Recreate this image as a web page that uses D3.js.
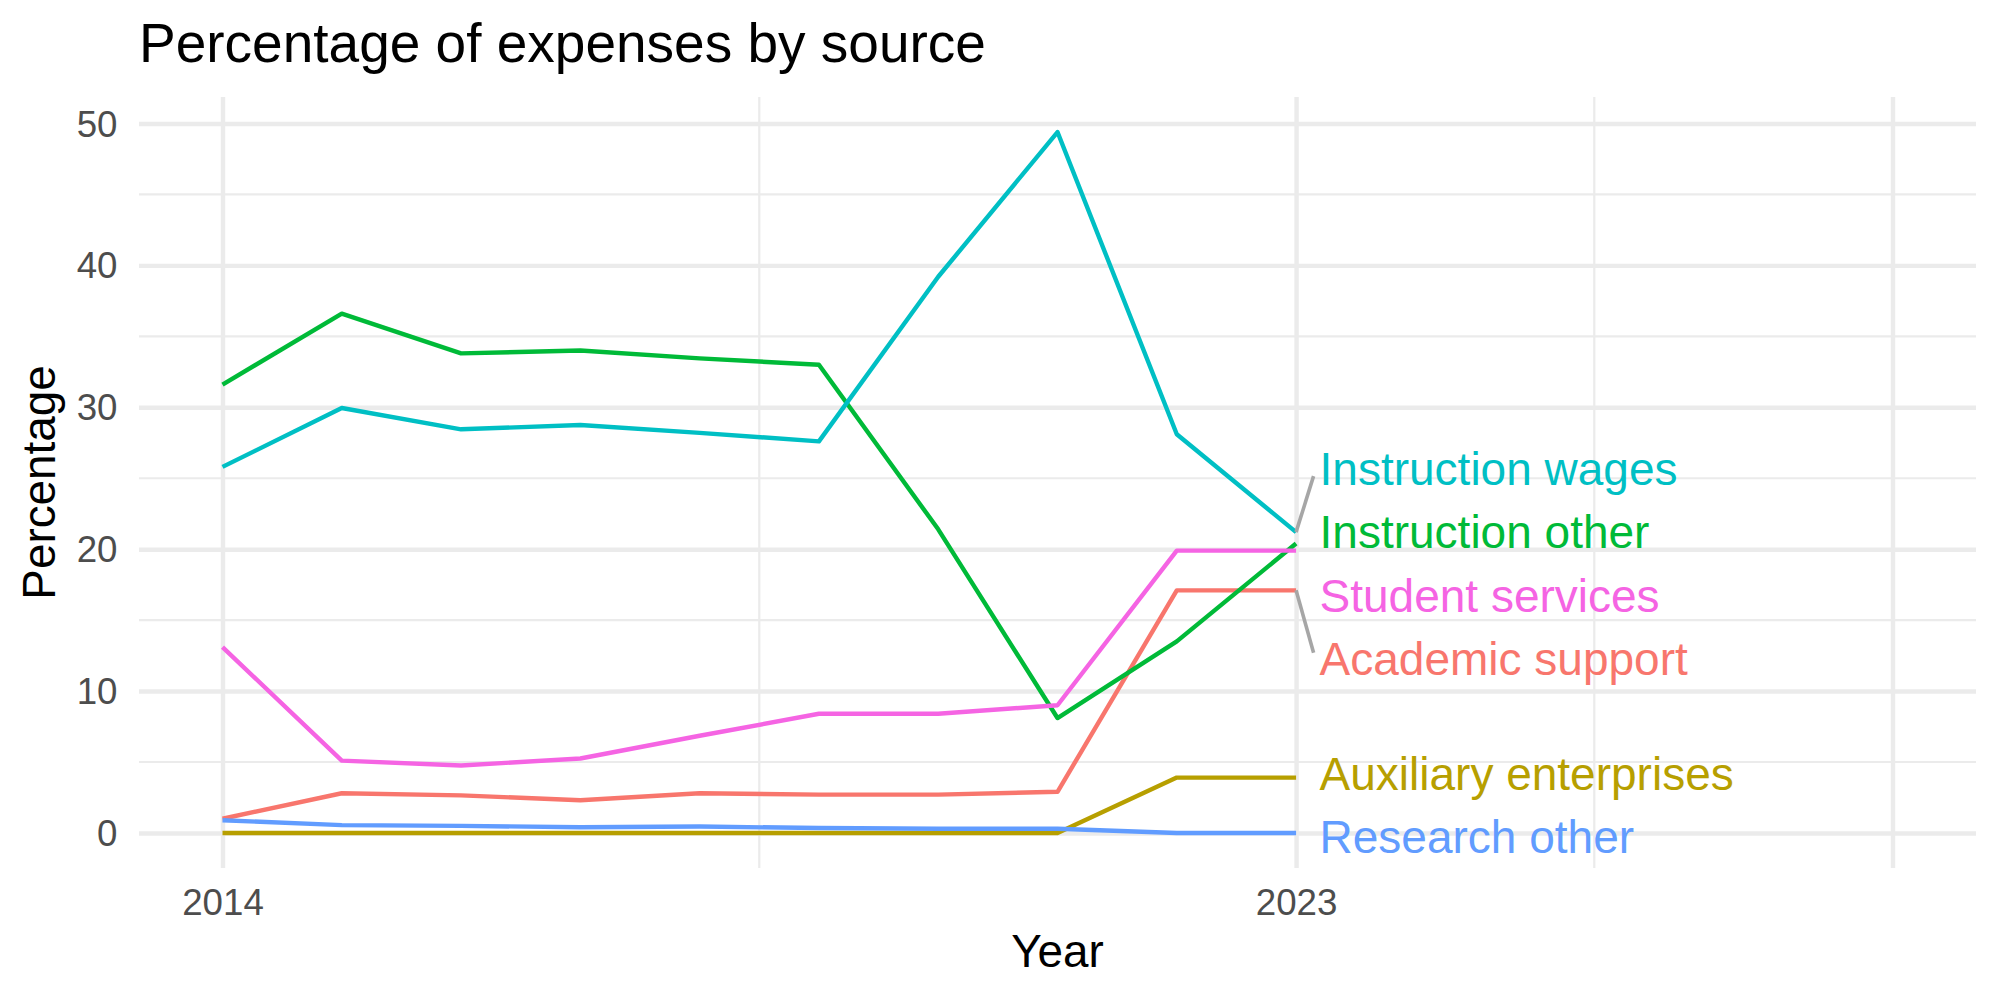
<!DOCTYPE html>
<html>
<head>
<meta charset="utf-8">
<script src="https://cdn.jsdelivr.net/npm/d3@7"></script>
<style>
  body { margin: 0; background: #fff; }
  svg { display: block; font-family: "Liberation Sans", Arial, sans-serif; }
</style>
</head>
<body>
<svg></svg>
<script>
const size = {w: 2000, h: 1000};
const margin = {t: 97, r: 24, b: 132, l: 139};
const panel = {w: size.w - margin.l - margin.r, h: size.h - margin.t - margin.b};

// data
const years = [2014, 2015, 2016, 2017, 2018, 2019, 2020, 2021, 2022, 2023];
const seriesNames = ['Academic support', 'Auxiliary enterprises', 'Instruction other',
                     'Instruction wages', 'Research other', 'Student services'];
const academicSupport      = [1.0, 2.8, 2.65, 2.3, 2.8, 2.7, 2.7, 2.9, 17.1, 17.1];
const auxiliaryEnterprises = [0, 0, 0, 0, 0, 0, 0, 0, 3.9, 3.9];
const instructionOther     = [31.6, 36.6, 33.8, 34.0, 33.45, 33.0, 21.4, 8.1, 13.5, 20.4];
const instructionWages     = [25.8, 29.95, 28.45, 28.75, 28.2, 27.6, 39.2, 49.4, 28.1, 21.2];
const researchOther        = [0.9, 0.55, 0.5, 0.4, 0.45, 0.35, 0.3, 0.3, 0, 0];
const studentServices      = [13.1, 5.1, 4.75, 5.25, 6.85, 8.4, 8.4, 9.0, 19.9, 19.9];
const seriesValues = [academicSupport, auxiliaryEnterprises, instructionOther,
                      instructionWages, researchOther, studentServices];
const colorPalette = ['#F8766D', '#B79F00', '#00BA38', '#00BFC4', '#619CFF', '#F564E3'];

const xLimits = [2014, 2028];
const xBreaks = [2014, 2023, 2028];
const xTickLabels = ['2014', '2023', ''];
const yBreaks = [0, 10, 20, 30, 40, 50];

const series = seriesNames.map((name, i) => ({
    name: name,
    color: colorPalette[i],
    values: years.map((y, j) => ({year: y, value: seriesValues[i][j]}))
}));

const svg = d3.select('svg')
    .attr('width', size.w)
    .attr('height', size.h);

// ggplot style 5% expansion
function expand(ext) {
    const pad = (ext[1] - ext[0]) * 0.05;
    return [ext[0] - pad, ext[1] + pad];
}

const allValues = seriesValues.flat();
const scaleX = d3.scaleLinear()
    .domain(expand(xLimits))
    .range([margin.l, margin.l + panel.w]);
const scaleY = d3.scaleLinear()
    .domain(expand([d3.min(allValues), d3.max(allValues)]))
    .range([margin.t + panel.h, margin.t]);

const gridColor = '#EBEBEB';
const majorW = 4.4, minorW = 2.2;

// minor gridlines
const yMinor = d3.pairs(yBreaks).map(p => (p[0] + p[1]) / 2);
const xMinor = d3.pairs(xBreaks).map(p => (p[0] + p[1]) / 2);

svg.append('g').selectAll('line')
    .data(yMinor)
    .join('line')
    .attr('x1', margin.l).attr('x2', margin.l + panel.w)
    .attr('y1', d => scaleY(d)).attr('y2', d => scaleY(d))
    .attr('stroke', gridColor).attr('stroke-width', minorW);

svg.append('g').selectAll('line')
    .data(xMinor)
    .join('line')
    .attr('x1', d => scaleX(d)).attr('x2', d => scaleX(d))
    .attr('y1', margin.t).attr('y2', margin.t + panel.h)
    .attr('stroke', gridColor).attr('stroke-width', minorW);

// axes with major gridlines
const axisY = d3.axisLeft(scaleY)
    .tickValues(yBreaks)
    .tickSize(-panel.w)
    .tickPadding(21.5);
const axisYG = svg.append('g')
    .attr('transform', `translate(${margin.l}, 0)`)
    .call(axisY);

const axisX = d3.axisBottom(scaleX)
    .tickValues(xBreaks)
    .tickFormat((d, i) => xTickLabels[i])
    .tickSize(-panel.h)
    .tickPadding(21);
const axisXG = svg.append('g')
    .attr('transform', `translate(0, ${margin.t + panel.h})`)
    .call(axisX);

[axisYG, axisXG].forEach(g => {
    g.select('.domain').remove();
    g.selectAll('.tick line').attr('stroke', gridColor).attr('stroke-width', majorW);
    g.selectAll('.tick text')
        .attr('fill', '#4D4D4D')
        .style('font-size', '36.7px')
        .style('font-family', '"Liberation Sans", Arial, sans-serif');
});
axisYG.selectAll('.tick text').attr('dy', '0.34em');

// lines
const line = d3.line()
    .x(d => scaleX(d.year))
    .y(d => scaleY(d.value));

svg.append('g').selectAll('path')
    .data(series)
    .join('path')
    .attr('d', d => line(d.values))
    .attr('fill', 'none')
    .attr('stroke', d => d.color)
    .attr('stroke-width', 4.4)
    .attr('stroke-linejoin', 'round');

// end labels, simple 1D repel (lower label gives way a bit more)
const lastYear = years[years.length - 1];
const labelFont = 46;
const labelX = scaleX(lastYear) + 23.5;
const labels = series.map(s => {
    const v = s.values[s.values.length - 1].value;
    return {name: s.name, color: s.color, py: scaleY(v), y: scaleY(v)};
}).sort((a, b) => a.py - b.py);

const gap = 63.5;
for (let k = 0; k < 300; k++) {
    for (let i = 1; i < labels.length; i++) {
        const d = labels[i].y - labels[i - 1].y;
        if (d < gap) {
            const over = gap - d;
            labels[i - 1].y -= over * 0.455;
            labels[i].y += over * 0.545;
        }
    }
}

const px = scaleX(lastYear);
const segG = svg.append('g');
labels.forEach(l => {
    const top = l.y - labelFont / 2, bottom = l.y + labelFont / 2;
    const dy = l.py < top ? top - l.py : (l.py > bottom ? l.py - bottom : 0);
    const dx = labelX - 6 - px;
    if (Math.hypot(dx, dy) > 30) {
        segG.append('line')
            .attr('x1', px).attr('y1', l.py)
            .attr('x2', labelX - 6).attr('y2', l.y + Math.sign(l.py - l.y) * 7)
            .attr('stroke', '#A6A6A6')
            .attr('stroke-width', 3.6);
    }
});

svg.append('g').selectAll('text')
    .data(labels)
    .join('text')
    .attr('x', labelX)
    .attr('y', d => d.y)
    .attr('dy', '0.34em')
    .attr('fill', d => d.color)
    .style('font-size', labelFont + 'px')
    .text(d => d.name);

// titles
svg.append('text')
    .attr('x', margin.l)
    .attr('y', 62)
    .style('font-size', '55px')
    .attr('fill', '#000')
    .text('Percentage of expenses by source');

svg.append('text')
    .attr('x', margin.l + panel.w / 2)
    .attr('y', 967)
    .attr('text-anchor', 'middle')
    .style('font-size', '45.8px')
    .attr('fill', '#000')
    .text('Year');

svg.append('text')
    .attr('transform', `translate(55, ${margin.t + panel.h / 2}) rotate(-90)`)
    .attr('text-anchor', 'middle')
    .style('font-size', '45.8px')
    .attr('fill', '#000')
    .text('Percentage');
</script>
</body>
</html>
